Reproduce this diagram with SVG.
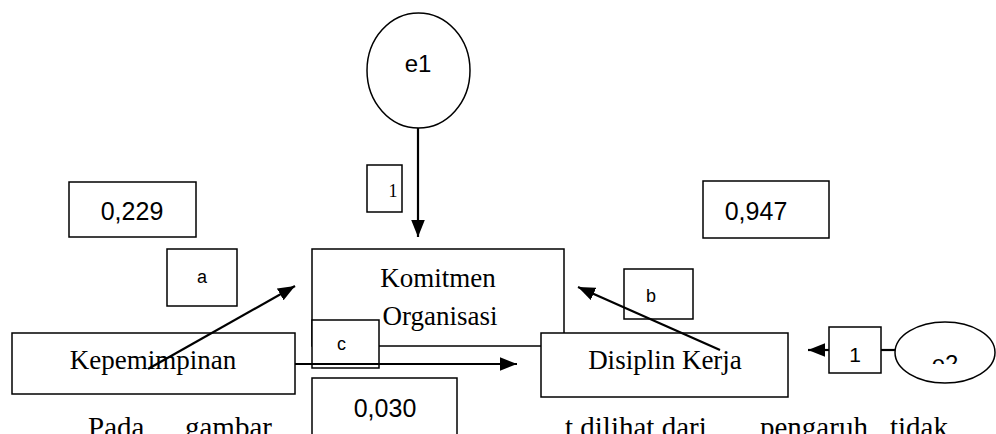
<svg xmlns="http://www.w3.org/2000/svg" width="996" height="434" viewBox="0 0 996 434">
  <defs>
    <style>
      .box { fill: #fff; stroke: #000; stroke-width: 1.5; }
      .node { fill: #fff; stroke: #000; stroke-width: 1.5; }
      .edge { fill: none; stroke: #000; stroke-width: 2.2; }
      .serif { font-family: "Liberation Serif", "Times New Roman", serif; fill: #000; }
      .sans { font-family: "Liberation Sans", Arial, sans-serif; fill: #000; }
      .big { font-size: 27px; }
      .num { font-size: 25px; }
      .lbl { font-size: 18px; }
    </style>
    <marker id="arrowL" viewBox="0 0 20 16" refX="20" refY="8" markerWidth="17" markerHeight="14" markerUnits="userSpaceOnUse" orient="auto">
      <path d="M0,0 L20,8 L0,16 z" fill="#000"/>
    </marker>
    <clipPath id="e2clip">
      <rect x="900" y="330" width="96" height="34"/>
    </clipPath>
  </defs>

  <!-- running paragraph below the figure, cut by the page edge -->
  <text class="serif" font-size="29" y="437">
    <tspan x="88">Pada</tspan><tspan x="185">gambar</tspan><tspan x="565">t dilihat dari</tspan><tspan x="760">pengaruh</tspan><tspan x="890">tidak</tspan>
  </text>

  <!-- main variables -->
  <g id="komitmen">
    <rect class="node" x="312" y="249" width="252" height="97"/>
    <text class="serif big" x="438" y="287" text-anchor="middle">Komitmen</text>
    <text class="serif big" x="440" y="325" text-anchor="middle">Organisasi</text>
  </g>

  <g id="label-c">
    <rect class="box" x="312" y="320" width="67" height="48"/>
    <text class="sans lbl" x="337" y="350">c</text>
  </g>

  <g id="kepemimpinan">
    <rect class="node" x="12" y="333" width="283" height="61"/>
    <text class="serif big" x="153" y="369" text-anchor="middle">Kepemimpinan</text>
  </g>

  <g id="disiplin">
    <rect class="node" x="541" y="333" width="247" height="64"/>
    <text class="serif big" x="665" y="369" text-anchor="middle">Disiplin Kerja</text>
  </g>

  <!-- error terms -->
  <g id="e1">
    <ellipse class="node" cx="418.5" cy="70.5" rx="51.5" ry="57.5"/>
    <text class="sans" font-size="24" x="418" y="72" text-anchor="middle">e1</text>
  </g>

  <g id="e2">
    <ellipse class="node" cx="945" cy="352.5" rx="50" ry="30.5"/>
    <text class="sans" font-size="24" x="945" y="372" text-anchor="middle" clip-path="url(#e2clip)">e2</text>
  </g>

  <!-- coefficient labels -->
  <g id="label-1-e1">
    <rect class="box" x="367" y="165" width="35" height="47"/>
    <text class="serif" font-size="18" x="393" y="197" text-anchor="middle">1</text>
  </g>

  <g id="r2-0229">
    <rect class="box" x="69" y="182" width="127" height="55"/>
    <text class="sans num" x="132" y="220" text-anchor="middle">0,229</text>
  </g>

  <g id="r2-0947">
    <rect class="box" x="703" y="181" width="126" height="57"/>
    <text class="sans num" x="756" y="220" text-anchor="middle">0,947</text>
  </g>

  <g id="label-a">
    <rect class="box" x="167" y="249" width="70" height="57"/>
    <text class="sans lbl" x="202" y="283" text-anchor="middle">a</text>
  </g>

  <g id="label-b">
    <rect class="box" x="624" y="269" width="69" height="50"/>
    <text class="sans lbl" x="651" y="302" text-anchor="middle">b</text>
  </g>

  <g id="value-0030">
    <rect class="box" x="312" y="378" width="145" height="70"/>
    <text class="sans num" x="385" y="417" text-anchor="middle">0,030</text>
  </g>

  <g id="label-1-e2">
    <rect class="box" x="829" y="327" width="52" height="46"/>
    <text class="sans" font-size="21" x="855" y="362" text-anchor="middle">1</text>
  </g>

  <!-- paths between variables -->
  <g id="connectors">
    <line class="edge" x1="418" y1="128" x2="418" y2="237" marker-end="url(#arrowL)"/>
    <line class="edge" x1="148" y1="369" x2="295" y2="286" marker-end="url(#arrowL)"/>
    <line class="edge" x1="720" y1="350" x2="578" y2="287" marker-end="url(#arrowL)"/>
    <line class="edge" x1="295" y1="364" x2="517" y2="364" marker-end="url(#arrowL)"/>
    <line class="edge" x1="881" y1="350" x2="895" y2="350"/>
    <line class="edge" x1="829" y1="350" x2="808" y2="350" marker-end="url(#arrowL)"/>
  </g>
</svg>
